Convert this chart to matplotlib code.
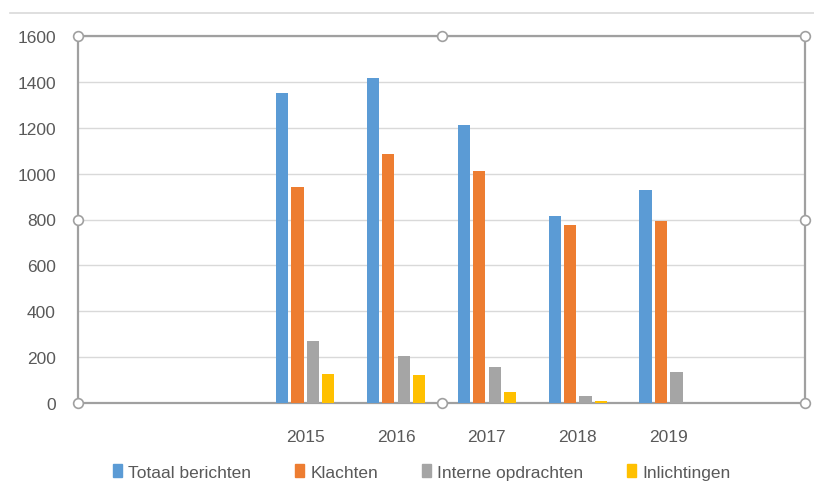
import numpy as np
import matplotlib.pyplot as plt
from matplotlib.lines import Line2D
from matplotlib.patches import Patch

# categories (Excel range includes empty cells before/after the years)
categories = ["", "", "2015", "2016", "2017", "2018", "2019", ""]
series_names = ["Totaal berichten", "Klachten", "Interne opdrachten", "Inlichtingen"]
totaal = [0, 0, 1350, 1415, 1213, 814, 927, 0]
klachten = [0, 0, 942, 1085, 1011, 776, 795, 0]
interne = [0, 0, 272, 203, 158, 32, 137, 0]
inlichtingen = [0, 0, 127, 122, 46, 7, 0, 0]
colors = ["#5B9BD5", "#ED7D31", "#A5A5A5", "#FFC000"]

TEXT = "#595959"
plt.rcParams["font.family"] = ["Liberation Sans", "DejaVu Sans"]

fig = plt.figure(figsize=(8.14, 4.85), dpi=100)
ax = fig.add_axes([78 / 814, 81 / 485, 727 / 814, 367 / 485])

x = np.arange(len(categories))
pitch = 0.17
width = 0.135
offsets = (np.arange(4) - 1.5) * pitch
for vals, off, col in zip([totaal, klachten, interne, inlichtingen], offsets, colors):
    ax.bar(x + off, vals, width, color=col, zorder=3)

ax.set_xlim(-0.5, len(categories) - 0.5)
ax.set_ylim(0, 1600)
ax.set_yticks(range(0, 1601, 200))
ax.set_xticks(x)
ax.set_xticklabels(categories)
ax.tick_params(axis="both", length=0, colors=TEXT, labelsize=12.5)
ax.tick_params(axis="x", pad=19)
ax.tick_params(axis="y", pad=16)
ax.grid(axis="y", color="#D9D9D9", linewidth=1, zorder=0)

# selection frame around the plot area
for s in ax.spines.values():
    s.set_color("#A0A0A0")
    s.set_linewidth(1.6)

hx = [0, 0.5, 1, 0, 1, 0, 0.5, 1]
hy = [0, 0, 0, 0.5, 0.5, 1, 1, 1]
ax.plot(hx, hy, linestyle="none", marker="o", markersize=7,
        markerfacecolor="white", markeredgecolor="#A0A0A0", markeredgewidth=1.2,
        transform=ax.transAxes, clip_on=False, zorder=5)

# chart area top border
fig.add_artist(Line2D([10 / 814, 1], [1 - 14 / 485, 1 - 14 / 485],
                      color="#D9D9D9", linewidth=1.2))

handles = [Patch(color=c) for c in colors]
fig.legend(handles, series_names, loc="center", bbox_to_anchor=(0.518, 1 - 473 / 485),
           ncol=4, frameon=False, fontsize=12.5, labelcolor=TEXT,
           handlelength=0.55, handleheight=0.7, handletextpad=0.35, columnspacing=2.5)

fig.savefig("out.png", dpi=100)
